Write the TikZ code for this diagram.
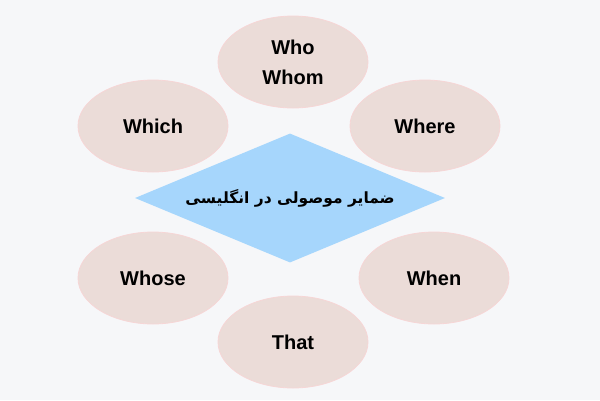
\documentclass[tikz,border=0pt]{standalone}
\usepackage{fontspec}
\setmainfont{Liberation Sans}
\newfontfamily\arabicfont[Script=Arabic]{DejaVu Sans}
\TeXXeTstate=1
\usetikzlibrary{shapes.geometric}
\definecolor{pagebg}{HTML}{F6F7F9}
\definecolor{pronfill}{HTML}{EBDCD8}
\definecolor{pronedge}{HTML}{F6D6D6}
\definecolor{topicfill}{HTML}{A6D6FC}
\begin{document}
\begin{tikzpicture}[x=1pt, y=-1pt,
    pron/.style={ellipse, fill=pronfill, draw=pronedge, line width=0.8pt,
        minimum width=150pt, minimum height=92pt, inner sep=0pt,
        align=center, font=\fontsize{20}{30}\selectfont\bfseries},
    topic/.style={diamond, fill=topicfill, inner sep=0pt, shape aspect=2.4,
        minimum width=310pt, minimum height=129pt}]
	\fill[pagebg] (0,0) rectangle (600,400);
	\useasboundingbox (0,0) rectangle (600,400);
	% the six pronouns
	\node[pron] (whowhom) at (293,62) {Who\\Whom};
	\node[pron] (which) at (153,126) {Which};
	\node[pron] (where) at (425,126) {Where};
	\node[pron] (whose) at (153,278) {Whose};
	\node[pron] (when) at (434,278) {When};
	\node[pron] (that) at (293,342) {That};
	% title in the middle
	\node[topic] (title) at (290,198)
		{\arabicfont\bfseries\fontsize{15.5}{20}\selectfont\beginR ضمایر موصولی در انگلیسی\endR};
\end{tikzpicture}
\end{document}
